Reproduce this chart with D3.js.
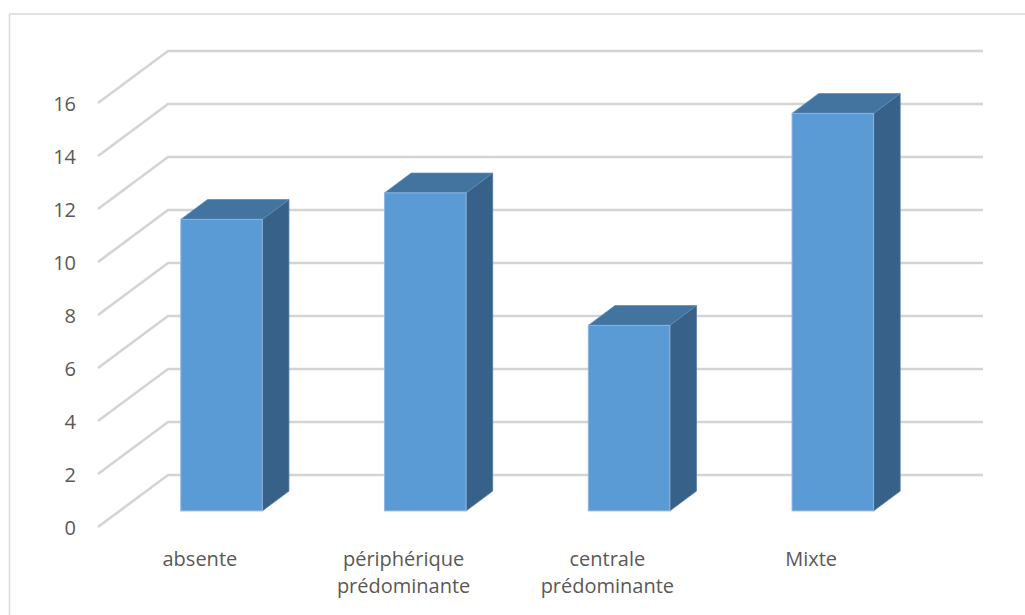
<!DOCTYPE html>
<html>
<head>
<meta charset="utf-8">
<script src="https://cdn.jsdelivr.net/npm/d3@7"></script>
<style>
  html, body { margin: 0; padding: 0; background: #fff; }
  svg { display: block; }
</style>
</head>
<body>
<svg id="chart" width="1025" height="615"></svg>
<script>
const categories = ["absente", "périphérique prédominante", "centrale prédominante", "Mixte"];
const categoryLines = [["absente"], ["périphérique", "prédominante"], ["centrale", "prédominante"], ["Mixte"]];
const values = [11, 12, 7, 15];
const yTicks = [0, 2, 4, 6, 8, 10, 12, 14, 16];

const svg = d3.select("#chart");
const W = 1025, H = 615;

// chart border
svg.append("rect").attr("x", 9.5).attr("y", 14).attr("width", W).attr("height", H)
  .attr("fill", "#fff").attr("stroke", "#d9d9d9").attr("stroke-width", 1.5);

// 3D geometry
const depthX = 70, depthY = -52;       // floor depth offset (front -> back wall)
const barF0 = 0.31, barF1 = 0.69;       // bar depth fractions

const x = d3.scaleBand().domain(categories).range([98, 913]).paddingInner(0).paddingOuter(0);
const y = d3.scaleLinear().domain([0, 16]).range([527, 103]);
const barW = x.bandwidth() * 0.4;

// gridlines: diagonal on the side wall + horizontal on back wall
const grid = svg.append("g");
yTicks.forEach(t => {
  const yf = y(t);
  const xb0 = x.range()[0] + depthX, yb = yf + depthY;
  const xb1 = x.range()[1] + depthX;
  grid.append("path")
    .attr("d", `M${x.range()[0]},${yf}L${xb0},${yb}L${xb1},${yb}`)
    .attr("fill", "none").attr("stroke", "#d4d4d4").attr("stroke-width", 2.6)
    .attr("stroke-linejoin", "miter");
});

// y axis labels
const yAxis = d3.axisLeft(y).tickValues(yTicks).tickSize(0).tickPadding(22);
const ya = svg.append("g").attr("transform", "translate(98,0)").call(yAxis);
ya.select(".domain").remove();
ya.selectAll("text").attr("font-family", "'Open Sans', sans-serif").attr("font-size", 20)
  .attr("fill", "#595959").attr("dy", "0.35em");

// bars
const bars = svg.append("g");
categories.forEach((c, i) => {
  const v = values[i];
  const cx = x(c) + x.bandwidth() / 2;
  const ox0 = depthX * barF0, oy0 = depthY * barF0;
  const ox1 = depthX * barF1, oy1 = depthY * barF1;
  const xl = cx - barW / 2 + ox0, xr = cx + barW / 2 + ox0;
  const yb = y(0) + oy0, yt = y(v) + oy0;
  const ddx = ox1 - ox0, ddy = oy1 - oy0;
  // side
  bars.append("path")
    .attr("d", `M${xr},${yb}L${xr + ddx},${yb + ddy}L${xr + ddx},${yt + ddy}L${xr},${yt}Z`)
    .attr("fill", "#386189").attr("stroke", "#4d7aa6").attr("stroke-width", 0.8);
  // top
  bars.append("path")
    .attr("d", `M${xl},${yt}L${xl + ddx},${yt + ddy}L${xr + ddx},${yt + ddy}L${xr},${yt}Z`)
    .attr("fill", "#43739f").attr("stroke", "#5a8cbb").attr("stroke-width", 0.8);
  // front
  bars.append("rect")
    .attr("x", xl).attr("y", yt).attr("width", barW).attr("height", yb - yt)
    .attr("fill", "#5b9bd5").attr("stroke", "#8db5de").attr("stroke-width", 1);
});

// category labels
const cl = svg.append("g");
categories.forEach((c, i) => {
  const t = cl.append("text")
    .attr("x", x(c) + x.bandwidth() / 2)
    .attr("y", 566)
    .attr("text-anchor", "middle")
    .attr("font-family", "'Open Sans', sans-serif").attr("font-size", 20)
    .attr("fill", "#595959");
  categoryLines[i].forEach((ln, j) => {
    t.append("tspan").attr("x", x(c) + x.bandwidth() / 2).attr("dy", j === 0 ? 0 : 27).text(ln);
  });
});
</script>
</body>
</html>
